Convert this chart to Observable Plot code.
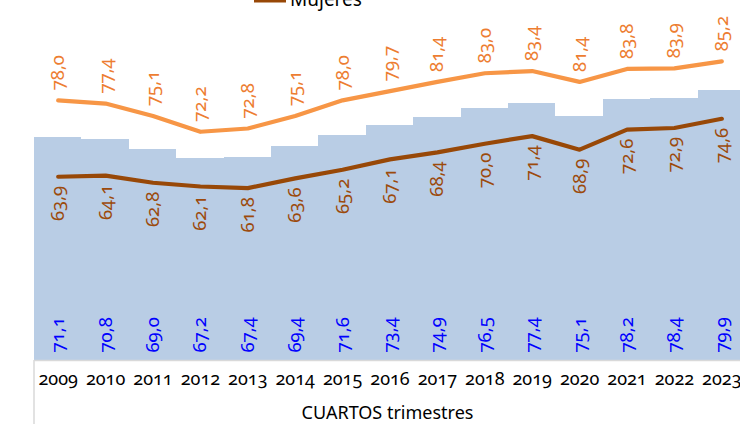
<!DOCTYPE html>
<html>
<head>
<meta charset="utf-8">
<script src="https://cdn.jsdelivr.net/npm/d3@7"></script>
<script src="https://cdn.jsdelivr.net/npm/@observablehq/plot@0.6"></script>
<style>
  html, body { margin: 0; padding: 0; background: #fff; }
  #chart { position: relative; width: 740px; height: 424px; overflow: hidden; }
  svg { font-family: "Noto Sans", "Open Sans", sans-serif; font-variant-numeric: oldstyle-nums; overflow: visible; }
</style>
</head>
<body>
<div id="chart"></div>
<script>
const years = [2009, 2010, 2011, 2012, 2013, 2014, 2015, 2016, 2017, 2018, 2019, 2020, 2021, 2022, 2023];
const total = [71.1, 70.8, 69.0, 67.2, 67.4, 69.4, 71.6, 73.4, 74.9, 76.5, 77.4, 75.1, 78.2, 78.4, 79.9];
const hombres = [78.0, 77.4, 75.1, 72.2, 72.8, 75.1, 78.0, 79.7, 81.4, 83.0, 83.4, 81.4, 83.8, 83.9, 85.2];
const mujeres = [63.9, 64.1, 62.8, 62.1, 61.8, 63.6, 65.2, 67.1, 68.4, 70.0, 71.4, 68.9, 72.6, 72.9, 74.6];
const axisTitle = "CUARTOS trimestres";
const legendLabel = "Mujeres";

const data = years.map((y, i) => ({year: String(y), total: total[i], hombres: hombres[i], mujeres: mujeres[i]}));
const fmt = v => v.toFixed(1).replace(".", ",");
const base = 30;

const plot = Plot.plot({
  width: 740,
  height: 424,
  marginLeft: 34,
  marginRight: 0,
  marginTop: 0,
  marginBottom: 64,
  style: {fontSize: "18px", background: "transparent"},
  x: {domain: years.map(String), range: [34, 745], padding: 0, round: false, label: null},
  y: {domain: [30, 100], range: [360, -19.4], axis: null},
  marks: [
    Plot.barY(data, {x: "year", y1: base, y2: "total", fill: "#B9CDE5", inset: 0, shapeRendering: "crispEdges"}),
    Plot.ruleY([base], {stroke: "#D9D9D9", strokeWidth: 1.5}),
    Plot.lineY(data, {x: "year", y: "hombres", stroke: "#F79646", strokeWidth: 4.2}),
    Plot.lineY(data, {x: "year", y: "mujeres", stroke: "#984807", strokeWidth: 4.2}),
    Plot.text(data, {x: "year", y: "hombres", text: d => fmt(d.hombres), rotate: -90, textAnchor: "start", dy: -10, fill: "#ED7D31", fontSize: 18.5}),
    Plot.text(data, {x: "year", y: "mujeres", text: d => fmt(d.mujeres), rotate: -90, textAnchor: "end", dy: 9, fill: "#9C4A0C", fontSize: 18.5}),
    Plot.text(data, {x: "year", y: base, text: d => fmt(d.total), rotate: -90, textAnchor: "start", dy: -8, fill: "#0000FF", fontSize: 18.5}),
    Plot.axisX({tickSize: 0, tickPadding: 12, fontSize: 18, fill: "#000", label: axisTitle, labelAnchor: "center", labelOffset: 58, labelArrow: "none"})
  ]
});

const svg = d3.select(plot);
const xr = plot.scale("x").range;
svg.append("line").attr("x1", xr[0]).attr("x2", xr[0]).attr("y1", 360).attr("y2", 424)
  .attr("stroke", "#D9D9D9").attr("stroke-width", 1.5);
svg.append("line").attr("x1", 254).attr("x2", 286).attr("y1", 0.5).attr("y2", 0.5)
  .attr("stroke", "#984807").attr("stroke-width", 4);
svg.append("text").attr("x", 290).attr("y", 5.5).attr("text-anchor", "start")
  .attr("font-size", 19).attr("fill", "#000").text(legendLabel);

document.getElementById("chart").appendChild(plot);
</script>
</body>
</html>
